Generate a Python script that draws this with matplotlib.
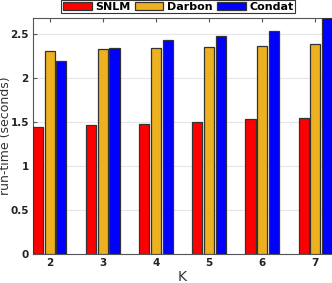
import numpy as np
import matplotlib.pyplot as plt
from matplotlib.patches import Patch

# Data
k_values = [2, 3, 4, 5, 6, 7]
snlm = [1.44, 1.46, 1.48, 1.50, 1.53, 1.55]
darbon = [2.31, 2.33, 2.34, 2.35, 2.36, 2.39]
condat = [2.19, 2.34, 2.43, 2.47, 2.53, 2.68]
series_names = ['SNLM', 'Darbon', 'Condat']
y_ticks = [0, 0.5, 1, 1.5, 2, 2.5]

colors = ['#FF0000', '#EDB120', '#0000FF']
edge = '#333333'

fig = plt.figure(figsize=(3.32, 2.83), dpi=100)
ax = fig.add_axes([33 / 332, 29 / 283, 299 / 332, 236 / 283])

x = np.array(k_values, dtype=float)
offset = 0.22
width = 0.19
for i, vals in enumerate([snlm, darbon, condat]):
    ax.bar(x + (i - 1) * offset, vals, width, color=colors[i],
           edgecolor=edge, linewidth=0.9, zorder=3)

ax.set_xlim(x[0] - offset - width / 2, x[-1] + offset + width / 2)
ax.set_ylim(0, max(condat))
ax.set_xticks(k_values)
ax.set_yticks(y_ticks)
ax.set_yticklabels(['0', '0.5', '1', '1.5', '2', '2.5'])
ax.grid(axis='y', color='#e6e6e6', linewidth=0.8, zorder=0)
ax.tick_params(direction='in', top=True, right=False, length=3,
               color='#555555', labelsize=7.5, pad=3)
for lab in ax.get_xticklabels() + ax.get_yticklabels():
    lab.set_fontweight('bold')
    lab.set_color('#222222')
for s in ax.spines.values():
    s.set_color('#555555')
    s.set_linewidth(0.8)

ax.set_xlabel('K', fontsize=10, color='#333333', labelpad=1)
ax.set_ylabel('run-time (seconds)', fontsize=9, color='#333333')
ax.yaxis.set_label_coords(-0.07, 0.5)

handles = [Patch(facecolor=c, edgecolor=edge, linewidth=0.9) for c in colors]
leg = fig.legend(handles, series_names, loc='upper center', ncol=3,
                 bbox_to_anchor=(178 / 332, 1.0), frameon=True, fancybox=False,
                 edgecolor='#333333', framealpha=1,
                 prop={'weight': 'bold', 'size': 8},
                 handlelength=2.6, handleheight=0.8, handletextpad=0.3,
                 columnspacing=0.4, borderpad=0.15, borderaxespad=0.0)
leg.get_frame().set_linewidth(0.8)

fig.savefig('out.png', dpi=100)
